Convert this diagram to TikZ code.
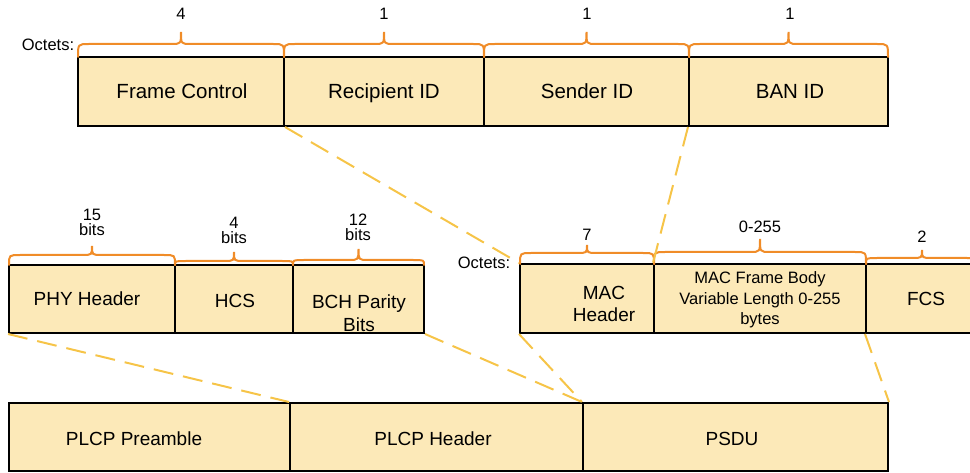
\documentclass[tikz,border=0pt]{standalone}
\usepackage{fontspec}
\setmainfont{Liberation Sans}
\definecolor{boxfill}{RGB}{252,233,184}
\definecolor{bracec}{RGB}{240,140,40}
\definecolor{dashc}{RGB}{246,196,72}
\newcommand\fieldbox[5]{\node[box,minimum width=#3pt-#2pt,minimum height=#5pt-#4pt] (#1) at ({(#2+#3)/2},{(#4+#5)/2}) {};}
\newcommand\octbrace[5]{\draw[brace] (#1,#3) .. controls (#1,#4) .. ({#1+11},#4) -- ({(#1+#2)/2-10},#4) .. controls ({(#1+#2)/2},#4) .. ({(#1+#2)/2},#5) .. controls ({(#1+#2)/2},#4) .. ({(#1+#2)/2+10},#4) -- ({#2-11},#4) .. controls (#2,#4) .. (#2,#3);}
\begin{document}
\begin{tikzpicture}[x=1pt,y=-1pt,
  box/.style={draw=black,line width=2pt,fill=boxfill,inner sep=0pt},
  brace/.style={draw=bracec,line width=2pt,line cap=round},
  conn/.style={draw=dashc,line width=2pt,dash pattern=on 20pt off 10pt},
  big/.style={font=\fontsize{20.5}{23}\selectfont,align=center,inner sep=0pt,anchor=base},
  mid/.style={font=\fontsize{19}{22.5}\selectfont,align=center,inner sep=0pt},
  midb/.style={mid,anchor=base},
  small/.style={font=\fontsize{16.5}{15}\selectfont,align=center,inner sep=0pt},
  body/.style={font=\fontsize{16.5}{20.5}\selectfont,align=center,inner sep=0pt}]
\useasboundingbox (0,0) rectangle (970,473);
\clip (0,0) rectangle (970,473);
% top row
\fieldbox{fc}{78}{284}{57}{126}
\fieldbox{rid}{284}{484}{57}{126}
\fieldbox{sid}{484}{689}{57}{126}
\fieldbox{ban}{689}{888}{57}{126}
% middle left
\fieldbox{phy}{9}{175}{265}{333}
\fieldbox{hcs}{175}{293}{265}{333}
\fieldbox{bch}{293}{424}{265}{333}
% middle right
\fieldbox{mac}{520}{654}{264}{333}
\fieldbox{fbody}{654}{866}{264}{333}
\fieldbox{fcs}{866}{980}{264}{333}
% bottom
\fieldbox{pre}{9}{290}{403}{471}
\fieldbox{plh}{290}{583}{403}{471}
\fieldbox{psdu}{583}{888}{403}{471}
% texts
\node[big] (fcT) at (182,99) {Frame Control};
\node[big] (ridT) at (384,99) {Recipient ID};
\node[big] (sidT) at (587,99) {Sender ID};
\node[big] (banT) at (790,99) {BAN ID};
\node[midb] (phyT) at (87,306) {PHY Header};
\node[midb] (hcsT) at (235,308) {HCS};
\node[mid] (bchT) at (359,313) {BCH Parity\\Bits};
\node[mid] (macT) at (604,304) {MAC\\Header};
\node[body] (fbodyT) at (760,300) {MAC Frame Body\\Variable Length 0-255\\bytes};
\node[midb] (fcsT) at (926,306) {FCS};
\node[midb] (preT) at (134,445) {PLCP Preamble};
\node[midb] (plhT) at (433,445) {PLCP Header};
\node[midb] (psduT) at (732,445) {PSDU};
% braces
\octbrace{78}{284}{57}{44}{32}
\octbrace{284}{484}{57}{44}{32}
\octbrace{484}{689}{57}{44}{32}
\octbrace{689}{888}{57}{44}{32}
\octbrace{9}{175}{265}{255}{246}
\octbrace{175}{293}{265}{261}{252}
\octbrace{293}{424}{265}{260}{249}
\octbrace{520}{654}{264}{253}{245}
\octbrace{654}{866}{264}{252}{239}
\octbrace{866}{978}{264}{258}{250}
% brace labels
\node[small] (o1) at (48,45) {Octets:};
\node[small] (n1) at (181,14) {4};
\node[small] (n2) at (384,14) {1};
\node[small] (n3) at (587,14) {1};
\node[small] (n4) at (790,14) {1};
\node[small] (b1) at (92,222) {15\\bits};
\node[small] (b2) at (234,230) {4\\bits};
\node[small] (b3) at (358,227) {12\\bits};
\node[small] (o2) at (484,263) {Octets:};
\node[small] (n5) at (587,235) {7};
\node[small] (n6) at (760,227) {0-255};
\node[small] (n7) at (922,237) {2};
% connectors
\draw[conn] (fc.south east) -- (mac.north west);
\draw[conn] (ban.south west) -- (fbody.north west);
\draw[conn] (phy.south west) -- (plh.north west);
\draw[conn] (bch.south east) -- (psdu.north west);
\draw[conn] (mac.south west) -- (psdu.north west);
\draw[conn] (fcs.south west) -- (psdu.north east);
\end{tikzpicture}
\end{document}
